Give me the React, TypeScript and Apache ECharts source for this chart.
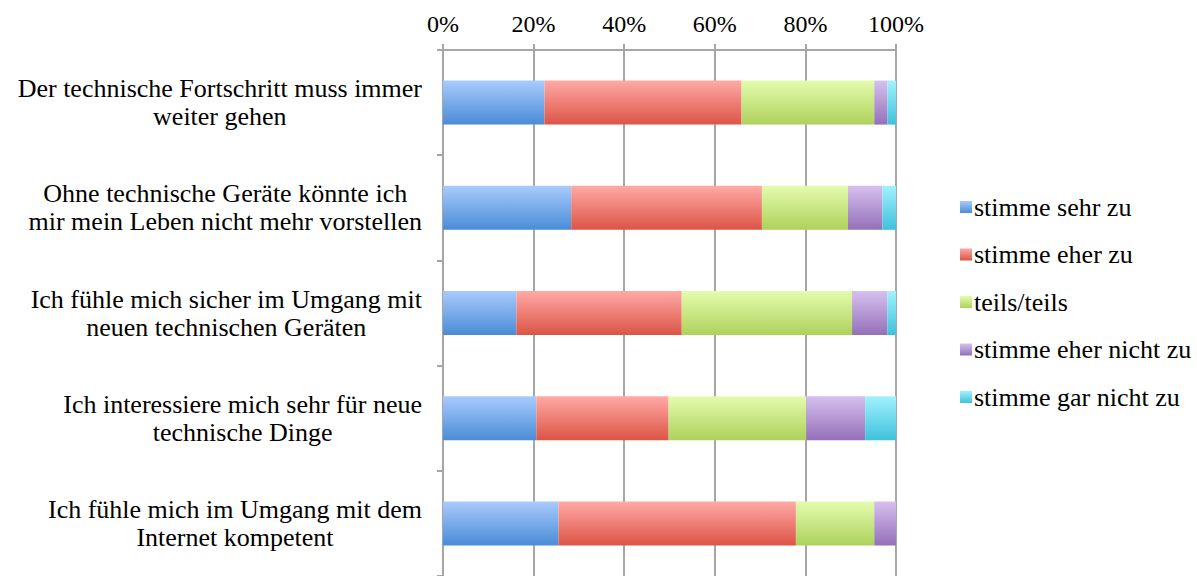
import React, { useEffect, useRef } from "react";
import * as echarts from "echarts";

const categories = [
  "Der technische Fortschritt muss immer\nweiter gehen",
  "Ohne technische Geräte könnte ich\nmir mein Leben nicht mehr vorstellen",
  "Ich fühle mich sicher im Umgang mit\nneuen technischen Geräten",
  "Ich interessiere mich sehr für neue\ntechnische Dinge",
  "Ich fühle mich im Umgang mit dem\nInternet kompetent",
];

const seriesNames = [
  "stimme sehr zu",
  "stimme eher zu",
  "teils/teils",
  "stimme eher nicht zu",
  "stimme gar nicht zu",
];

const sehrZu = [22.4, 28.3, 16.2, 20.6, 25.5];
const eherZu = [43.5, 42.1, 36.5, 29.2, 52.4];
const teils = [29.3, 19.0, 37.6, 30.4, 17.3];
const eherNicht = [2.9, 7.6, 7.8, 13.0, 4.8];
const garNicht = [1.9, 3.0, 1.9, 6.8, 0];

const xTicks = [0, 20, 40, 60, 80, 100];

const gradients: [string, string][] = [
  ["#a9cbfd", "#4a8cd6"],
  ["#ffaaa6", "#dc5446"],
  ["#e4fcae", "#aed15c"],
  ["#d6c0ef", "#9470b8"],
  ["#a2f1fe", "#3fc1db"],
];

const FONT = "Liberation Serif";

export default function App() {
  const ref = useRef<HTMLDivElement>(null);
  useEffect(() => {
    if (!ref.current) return;
    const chart = echarts.init(ref.current, null, { renderer: "svg" });
    const values = [sehrZu, eherZu, teils, eherNicht, garNicht];
    const gray = "#a6a6a6";
    chart.setOption({
      animation: false,
      backgroundColor: "#ffffff",
      textStyle: { fontFamily: FONT, color: "#000" },
      grid: { left: 443, right: 301, top: 50, bottom: -2 },
      legend: {
        orient: "vertical",
        left: 955,
        top: 189,
        itemWidth: 12,
        itemHeight: 12,
        itemGap: 21.5,
        icon: "rect",
        textStyle: { fontFamily: FONT, fontSize: 26, lineHeight: 26, color: "#000", padding: [0, 0, 0, -3] },
        data: seriesNames,
      },
      xAxis: {
        type: "value",
        position: "top",
        min: xTicks[0],
        max: xTicks[xTicks.length - 1],
        interval: 20,
        axisLine: { show: true, lineStyle: { color: gray, width: 2 } },
        axisTick: { show: true, length: 6, lineStyle: { color: gray, width: 2 } },
        splitLine: { show: true, lineStyle: { color: gray, width: 2 } },
        axisLabel: {
          formatter: "{value}%",
          fontFamily: FONT,
          fontSize: 24,
          color: "#000",
          margin: 14,
        },
      },
      yAxis: {
        type: "category",
        inverse: true,
        data: categories,
        axisLine: { show: true, lineStyle: { color: gray, width: 2 } },
        axisTick: { show: true, length: 6, lineStyle: { color: gray, width: 2 } },
        axisLabel: {
          margin: 21,
          align: "right",
          fontFamily: FONT,
          fontSize: 26,
          lineHeight: 28,
          color: "#000",
          formatter: (v: string) =>
            v
              .split("\n")
              .map((l) => "{c|" + l + "}")
              .join("\n"),
          rich: {
            c: { align: "center", fontFamily: FONT, fontSize: 26, lineHeight: 28, color: "#000" },
          },
        },
      },
      series: seriesNames.map((name, i) => ({
        name,
        type: "bar",
        stack: "total",
        barWidth: 44,
        data: values[i],
        itemStyle: {
          color: new echarts.graphic.LinearGradient(0, 0, 0, 1, [
            { offset: 0, color: gradients[i][0] },
            { offset: 1, color: gradients[i][1] },
          ]),
        },
      })),
    });
    return () => chart.dispose();
  }, []);
  return <div ref={ref} style={{ width: 1197, height: 576, position: "absolute", left: 0, top: 0 }} />;
}
